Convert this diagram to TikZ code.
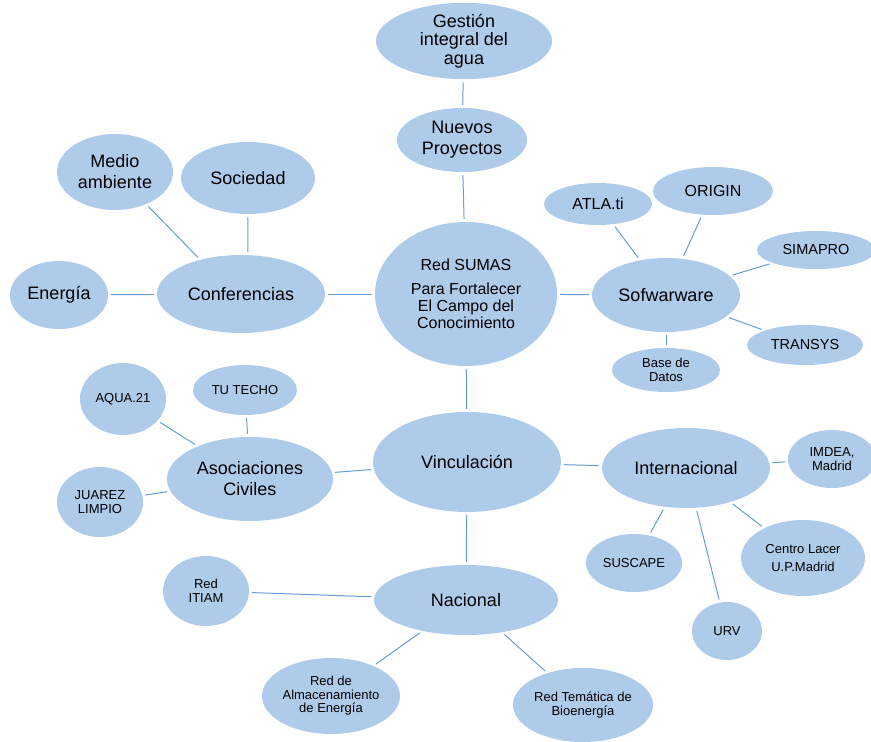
\documentclass[tikz,border=0pt]{standalone}
\usepackage{fontspec}
\setmainfont{Liberation Sans}
\usetikzlibrary{shapes.geometric}

\definecolor{bubblefill}{RGB}{175,203,234}
\definecolor{linkblue}{RGB}{104,156,214}

\begin{document}
\begin{tikzpicture}[x=1pt, y=-1pt,
    bubble/.style={ellipse, fill=bubblefill, inner sep=0pt, align=center, text=black},
    sz/.style 2 args={minimum width=#1pt, minimum height=#2pt},
    big/.style={font=\fontsize{18}{21}\selectfont},
    mid/.style={font=\fontsize{16}{17}\selectfont},
    med/.style={font=\fontsize{14.5}{16}\selectfont},
    small/.style={font=\fontsize{13}{13.5}\selectfont},
    link/.style={linkblue, line width=1pt, shorten <=3pt, shorten >=3pt}]
    \useasboundingbox (0,0) rectangle (871,742);

    % centre
    \node[bubble, mid, sz={182}{144}] (sumas) at (466,294)
        {Red SUMAS\\[7pt]Para Fortalecer\\El Campo del\\Conocimiento};

    % top
    \node[bubble, font=\fontsize{18}{18.5}\selectfont, sz={176}{70}] (agua) at (464,41)
        {Gestión\\integral del\\agua};
    \node[bubble, big, sz={130}{64}] (nuevos) at (462,140) {Nuevos\\Proyectos};

    % left
    \node[bubble, big, sz={168}{78}] (conf) at (241,294) {Conferencias};
    \node[bubble, big, sz={98}{68}] (energia) at (59,295) {Energía};
    \node[bubble, big, sz={116}{76}] (medio) at (115,172) {Medio\\ambiente};
    \node[bubble, big, sz={134}{72}] (sociedad) at (248,178) {Sociedad};

    % right
    \node[bubble, big, sz={148}{74}] (soft) at (666,295) {Sofwarware};
    \node[bubble, mid, sz={108}{42}] (atlas) at (598,204) {ATLA.ti};
    \node[bubble, mid, sz={120}{48}] (origin) at (713,191) {ORIGIN};
    \node[bubble, med, sz={118}{38}] (simapro) at (816,250) {SIMAPRO};
    \node[bubble, med, sz={116}{40}] (transys) at (805,345) {TRANSYS};
    \node[bubble, small, sz={108}{44}] (datos) at (666,370) {Base de\\Datos};

    % bottom
    \node[bubble, big, sz={188}{100}] (vinc) at (467,462) {Vinculación};
    \node[bubble, big, sz={166}{84}] (asoc) at (250,479) {Asociaciones\\Civiles};
    \node[bubble, small, sz={86}{72}] (aqua) at (123,399) {AQUA.21};
    \node[bubble, small, sz={104}{50}] (techo) at (245,390) {TU TECHO};
    \node[bubble, small, sz={86}{70}] (juarez) at (100,502) {JUAREZ\\LIMPIO};

    \node[bubble, big, sz={168}{80}] (inter) at (686,468) {Internacional};
    \node[bubble, small, sz={88}{58}] (imdea) at (832,459) {IMDEA,\\Madrid};
    \node[bubble, small, sz={124}{76}] (lacer) at (803,558) {Centro Lacer\\[4pt]U.P.Madrid};
    \node[bubble, small, sz={96}{58}] (suscape) at (634,563) {SUSCAPE};
    \node[bubble, small, sz={70}{58}] (urv) at (727,631) {URV};

    \node[bubble, big, sz={184}{70}] (nacional) at (466,600) {Nacional};
    \node[bubble, small, sz={86}{70}] (itiam) at (206,591) {Red\\ITIAM};
    \node[bubble, small, sz={138}{76}] (almac) at (331,696) {Red de\\Almacenamiento\\de Energía};
    \node[bubble, small, sz={140}{74}] (bioen) at (583,705) {Red Temática de\\Bioenergía};

    \path[link]
    (agua) edge (nuevos)
    (nuevos) edge (sumas)
    (sumas) edge (conf)
    (conf) edge (energia)
    (conf.140) edge (medio)
    (conf.80) edge (sociedad)
    (sumas) edge (soft)
    (soft) edge (atlas)
    (soft) edge (origin)
    (soft) edge (simapro)
    (soft) edge (transys)
    (soft) edge (datos)
    (sumas) edge (vinc)
    (vinc) edge (asoc)
    (asoc) edge (aqua)
    (asoc) edge (techo)
    (asoc) edge (juarez)
    (vinc) edge (inter)
    (inter) edge (imdea)
    (inter) edge (lacer)
    (inter) edge (suscape)
    (inter) edge (urv)
    (vinc) edge (nacional)
    (nacional) edge (itiam)
    (nacional) edge (almac)
    (nacional) edge (bioen)
    ;
\end{tikzpicture}
\end{document}
